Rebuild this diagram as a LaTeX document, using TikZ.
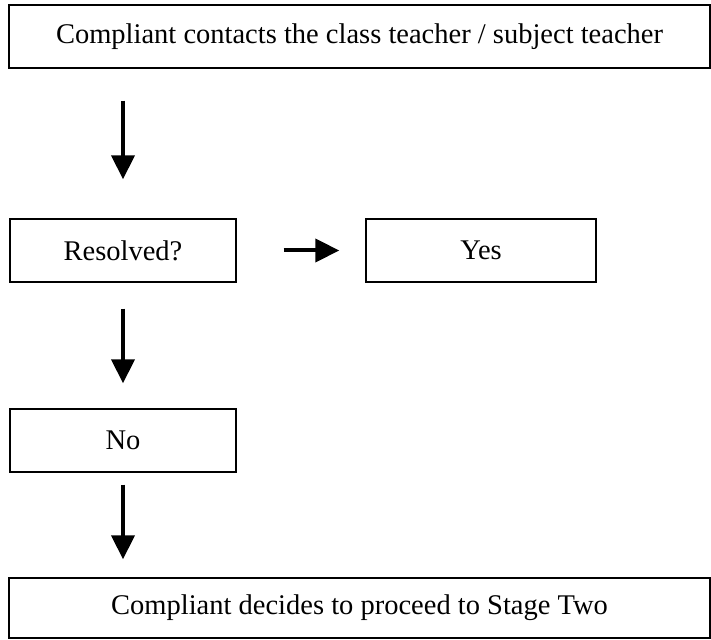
\documentclass[tikz,border=0pt]{standalone}
\usepackage{fontspec}
\setmainfont{Liberation Serif}
\usetikzlibrary{arrows.meta}
\begin{document}
\begin{tikzpicture}[x=1pt,y=1pt,
  box/.style={draw=black, line width=1.4pt, inner sep=0pt, font=\fontsize{28.5}{32}\selectfont},
  arr/.style={line width=4pt, -{Triangle[width=23pt,length=24pt]}}]
\useasboundingbox (0,0) rectangle (711,639);
\node[box, minimum width=701pt, minimum height=63pt] (top) at (359.5,602.5) {Compliant contacts the class teacher / subject teacher};
\node[box, minimum width=226pt, minimum height=63pt] (res) at (123,388.5) {Resolved?};
\node[box, minimum width=230pt, minimum height=63pt] (yes) at (481,388.5) {Yes};
\node[box, minimum width=226pt, minimum height=63pt] (no) at (123,198.5) {No};
\node[box, minimum width=701pt, minimum height=60pt] (bot) at (359.5,31) {Compliant decides to proceed to Stage Two};
\draw[arr, shorten <=32pt, shorten >=39pt] (top.south -| res) -- (res.north);
\draw[arr, shorten <=47pt, shorten >=26pt] (res.east) -- (yes.west);
\draw[arr, shorten <=26pt, shorten >=25pt] (res.south) -- (no.north);
\draw[arr, shorten <=12pt, shorten >=18pt] (no.south) -- (bot.north -| no);
\end{tikzpicture}
\end{document}
